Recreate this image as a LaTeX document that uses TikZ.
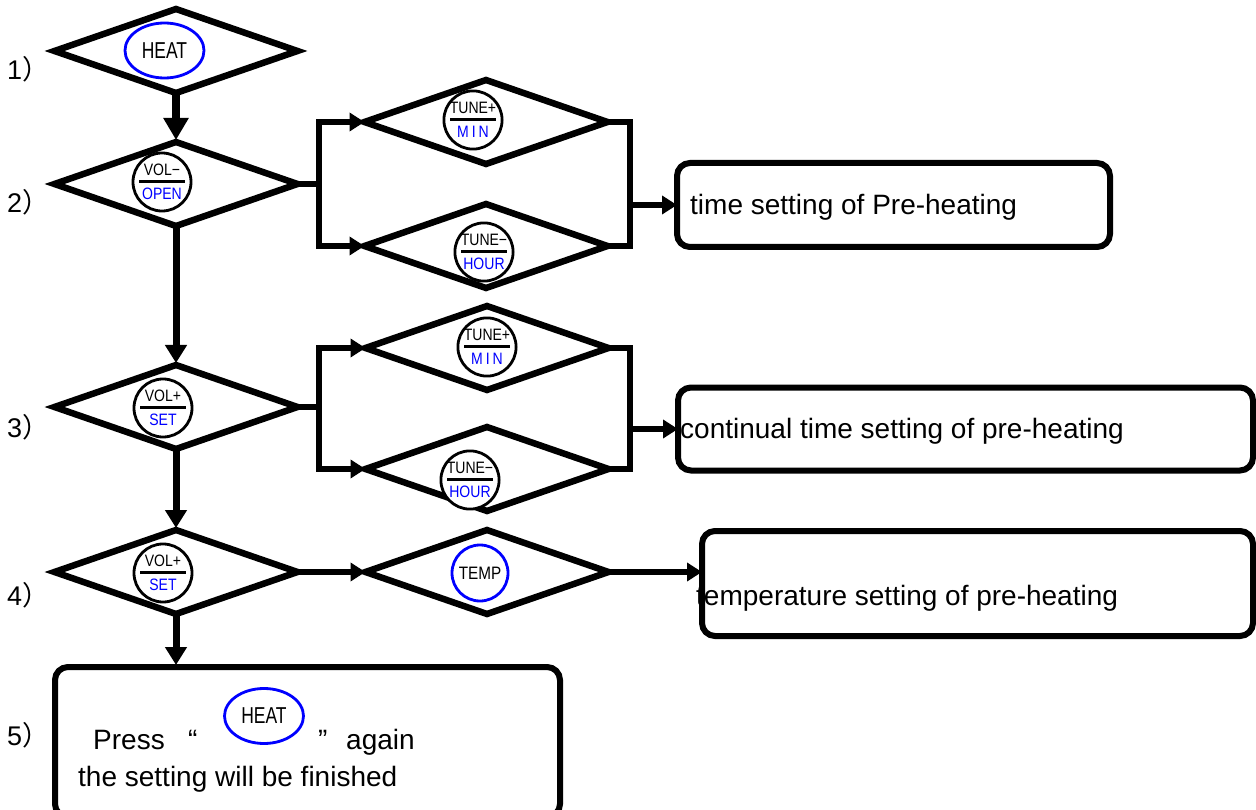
\documentclass[tikz,border=0pt]{standalone}
\usepackage{fontspec}
\setmainfont{Liberation Sans}
\newfontfamily\btnfont[FakeStretch=0.85]{Liberation Sans}
\newfontfamily\heatfont[FakeStretch=0.76]{Liberation Sans}
\newfontfamily\cjk{Noto Sans CJK SC}
\usetikzlibrary{shapes.geometric,arrows.meta}
\newcommand\btnbar{\rule{46pt}{3.2pt}}
\begin{document}
\begin{tikzpicture}[x=1pt,y=-1pt,line join=miter,
  dia/.style={diamond,draw,line width=6.5pt,minimum width=243pt,minimum height=84pt,inner sep=0pt,outer sep=0pt},
  btn/.style={circle,draw,fill=white,line width=2.8pt,minimum size=56pt,inner sep=0pt,align=center,
    font=\btnfont\fontsize{16.5}{16.5}\selectfont},
  heat/.style={ellipse,draw=blue,line width=2.8pt,minimum width=79pt,minimum height=55pt,inner sep=0pt,
    font=\heatfont\fontsize{23}{23}\selectfont},
  temp/.style={circle,draw=blue,line width=2.8pt,minimum size=56pt,inner sep=0pt,
    font=\btnfont\fontsize{18}{18}\selectfont},
  bx/.style={draw,line width=6pt,rounded corners=13pt,inner sep=0pt,outer sep=0pt},
  txt/.style={inner sep=0pt,anchor=base west,font=\fontsize{28}{32}\selectfont},
  lab/.style={inner sep=0pt,anchor=base west,font=\fontsize{27}{30}\selectfont},
  ln/.style={line width=6pt},
  harr/.style={line width=6pt,-{Triangle[length=15pt,width=18pt]}},
  varr/.style={line width=7pt,-{Triangle[length=18pt,width=21pt]},shorten >=2pt}]
\useasboundingbox (0,0) rectangle (1256,810);

% boxes
\node[bx,minimum width=433pt,minimum height=84pt] (bx1) at (893.5,205) {};
\node[bx,minimum width=575pt,minimum height=83pt] (bx2) at (965.5,429) {};
\node[bx,minimum width=551pt,minimum height=105pt] (bx3) at (977.5,583.5) {};
\node[bx,minimum width=505pt,minimum height=150pt] (bx5) at (307.5,742) {};

% diamonds
\node[dia] (d1) at (176,51) {};
\node[dia] (d2) at (176,184) {};
\node[dia] (d3) at (176,407) {};
\node[dia] (d4) at (176,572) {};
\node[dia] (d2a) at (486,122) {};
\node[dia] (d2b) at (486,246) {};
\node[dia] (d3a) at (487,348) {};
\node[dia] (d3b) at (487,469) {};
\node[dia] (d4a) at (487,572) {};

% vertical arrows
\draw[varr,line width=8pt,-{Triangle[length=22pt,width=24pt]}] (d1.south) -- (d2.north);
\draw[varr] (d2.south) -- (d3.north);
\draw[varr] (d3.south) -- (d4.north);
\draw[varr] (d4.south) -- (d4.south |- bx5.north);

% branch of step 2
\coordinate (j2) at (319,184);
\coordinate (k2) at (630,205);
\draw[ln] (d2.east) -- (j2);
\draw[harr] (j2) |- (d2a.west);
\draw[harr] (j2) |- (d2b.west);
\draw[ln] (d2a.east) -| (k2);
\draw[ln] (d2b.east) -| (k2);
\draw[harr] (k2) -- (k2 -| bx1.west);

% branch of step 3
\coordinate (j3) at (319,407);
\coordinate (k3) at (630,429);
\draw[ln] (d3.east) -- (j3);
\draw[harr] (j3) |- (d3a.west);
\draw[harr] (j3) |- (d3b.west);
\draw[ln] (d3a.east) -| (k3);
\draw[ln] (d3b.east) -| (k3);
\draw[harr] (k3) -- (k3 -| bx2.west);

% step 4
\draw[harr] (d4.east) -- (d4a.west);
\draw[harr] (d4a.east) -- (d4a.east -| bx3.west);

% buttons
\node[heat] (h1) at (164.5,50.5) {HEAT};
\node[btn] (b2) at (162,182) {VOL−\\[-9pt]\btnbar\\\textcolor{blue}{OPEN}};
\node[btn] (b2a) at (473,120) {TUNE+\\[-9pt]\btnbar\\\textcolor{blue}{M\kern3pt I\kern3pt N}};
\node[btn] (b2b) at (484,252) {TUNE−\\[-9pt]\btnbar\\\textcolor{blue}{HOUR}};
\node[btn] (b3) at (163,408) {VOL+\\[-9pt]\btnbar\\\textcolor{blue}{SET}};
\node[btn] (b3a) at (487,347) {TUNE+\\[-9pt]\btnbar\\\textcolor{blue}{M\kern3pt I\kern3pt N}};
\node[btn] (b3b) at (470,480) {TUNE−\\[-9pt]\btnbar\\\textcolor{blue}{HOUR}};
\node[btn] (b4) at (163,573) {VOL+\\[-9pt]\btnbar\\\textcolor{blue}{SET}};
\node[temp] (b4a) at (480,573) {TEMP};

% texts
\node[txt] (t1) at (690,215) {time setting of Pre-heating};
\node[txt] (t2) at (680,438) {continual time setting of pre-heating};
\node[txt] (t3) at (696,605) {temperature setting of pre-heating};
\node[txt] (t5a) at (93,749) {Press};
\node[txt] (q1) at (188,749) {“};
\node[heat] (h5) at (264,716) {HEAT};
\node[txt] (q2) at (318,749) {”};
\node[txt] (t5b) at (346,749) {again};
\node[txt] (t5c) at (78,786) {the setting will be finished};

% step labels
\node[lab] (l1) at (7,80) {1{\cjk ）}};
\node[lab] (l2) at (7,213) {2{\cjk ）}};
\node[lab] (l3) at (7,437) {3{\cjk ）}};
\node[lab] (l4) at (7,605) {4{\cjk ）}};
\node[lab] (l5) at (7,745) {5{\cjk ）}};
\end{tikzpicture}
\end{document}
